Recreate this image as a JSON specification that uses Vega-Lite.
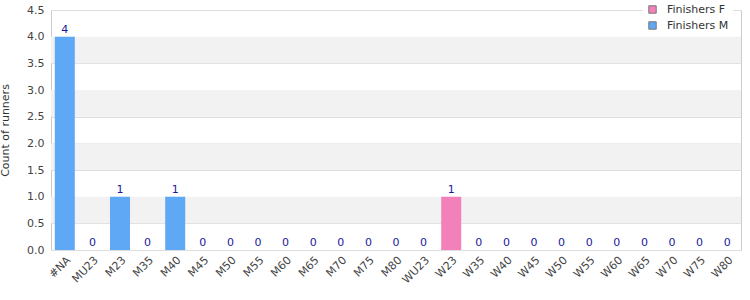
{
  "$schema": "https://vega.github.io/schema/vega-lite/v6.json",
  "width": 690,
  "height": 240,
  "autosize": "none",
  "padding": {"left": 51, "top": 10, "right": 9, "bottom": 50},
  "background": "white",
  "config": {
    "view": {"stroke": "#cccccc", "strokeWidth": 1},
    "font": "DejaVu Sans",
    "axisY": {
      "format": ".1f", "labelOverlap": false,
      "ticks": false, "domain": false, "gridColor": "#dddddd",
      "labelColor": "#444444", "labelFontSize": 11, "labelPadding": 7,
      "titleColor": "#333333", "titleFontSize": 11, "titleFontWeight": "normal",
      "titlePadding": 16
    }
  },
  "datasets": {
    "bars": [
      {"cat": "#NA", "series": "Finishers M", "n": 4},
      {"cat": "MU23", "series": "Finishers M", "n": 0},
      {"cat": "M23", "series": "Finishers M", "n": 1},
      {"cat": "M35", "series": "Finishers M", "n": 0},
      {"cat": "M40", "series": "Finishers M", "n": 1},
      {"cat": "M45", "series": "Finishers M", "n": 0},
      {"cat": "M50", "series": "Finishers M", "n": 0},
      {"cat": "M55", "series": "Finishers M", "n": 0},
      {"cat": "M60", "series": "Finishers M", "n": 0},
      {"cat": "M65", "series": "Finishers M", "n": 0},
      {"cat": "M70", "series": "Finishers M", "n": 0},
      {"cat": "M75", "series": "Finishers M", "n": 0},
      {"cat": "M80", "series": "Finishers M", "n": 0},
      {"cat": "WU23", "series": "Finishers F", "n": 0},
      {"cat": "W23", "series": "Finishers F", "n": 1},
      {"cat": "W35", "series": "Finishers F", "n": 0},
      {"cat": "W40", "series": "Finishers F", "n": 0},
      {"cat": "W45", "series": "Finishers F", "n": 0},
      {"cat": "W50", "series": "Finishers F", "n": 0},
      {"cat": "W55", "series": "Finishers F", "n": 0},
      {"cat": "W60", "series": "Finishers F", "n": 0},
      {"cat": "W65", "series": "Finishers F", "n": 0},
      {"cat": "W70", "series": "Finishers F", "n": 0},
      {"cat": "W75", "series": "Finishers F", "n": 0},
      {"cat": "W80", "series": "Finishers F", "n": 0}
    ],
    "bands": [
      {"lo": 0.5, "hi": 1.0},
      {"lo": 1.5, "hi": 2.0},
      {"lo": 2.5, "hi": 3.0},
      {"lo": 3.5, "hi": 4.0}
    ]
  },
  "layer": [
    {
      "data": {"name": "bands"},
      "mark": {"type": "rect", "color": "#f2f2f2"},
      "encoding": {
        "y": {
          "field": "lo", "type": "quantitative",
          "scale": {"domain": [0, 4.5], "nice": false},
          "axis": {"title": "Count of runners", "values": [0, 0.5, 1, 1.5, 2, 2.5, 3, 3.5, 4, 4.5], "labelOverlap": false, "tickMinStep": 0.5}
        },
        "y2": {"field": "hi"}
      }
    },
    {
      "data": {"name": "bars"},
      "layer": [
        {
          "mark": {"type": "bar"},
          "encoding": {
            "x": {
              "field": "cat", "type": "nominal", "sort": null,
              "scale": {"paddingInner": 0.275, "paddingOuter": 0.1375},
              "axis": {
                "title": null, "labelAngle": -45, "ticks": false, "domain": false,
                "labelColor": "#444444", "labelFontSize": 11, "labelPadding": 4
              }
            },
            "y": {
              "field": "n", "type": "quantitative",
              "scale": {"domain": [0, 4.5], "nice": false},
              "axis": {"title": "Count of runners", "values": [0, 0.5, 1, 1.5, 2, 2.5, 3, 3.5, 4, 4.5], "labelOverlap": false, "tickMinStep": 0.5}
            },
            "color": {
              "field": "series", "type": "nominal",
              "scale": {"domain": ["Finishers F", "Finishers M"], "range": ["#f281bb", "#5fa8f5"]},
              "legend": {
                "title": null, "orient": "none", "legendX": 592, "legendY": -10,
                "symbolType": "square", "symbolSize": 55, "symbolStrokeColor": "#777777",
                "symbolStrokeWidth": 1, "labelFontSize": 11, "labelColor": "#333333",
                "labelOffset": 9,
                "fillColor": "white", "padding": 4, "rowPadding": 3, "offset": 0
              }
            }
          }
        },
        {
          "mark": {"type": "text", "dy": -7, "color": "#1a1a9a", "fontSize": 11},
          "encoding": {
            "x": {"field": "cat", "type": "nominal", "sort": null},
            "y": {
              "field": "n", "type": "quantitative",
              "axis": {"title": "Count of runners", "values": [0, 0.5, 1, 1.5, 2, 2.5, 3, 3.5, 4, 4.5], "labelOverlap": false, "tickMinStep": 0.5}
            },
            "text": {"field": "n", "type": "quantitative"}
          }
        }
      ]
    }
  ]
}
